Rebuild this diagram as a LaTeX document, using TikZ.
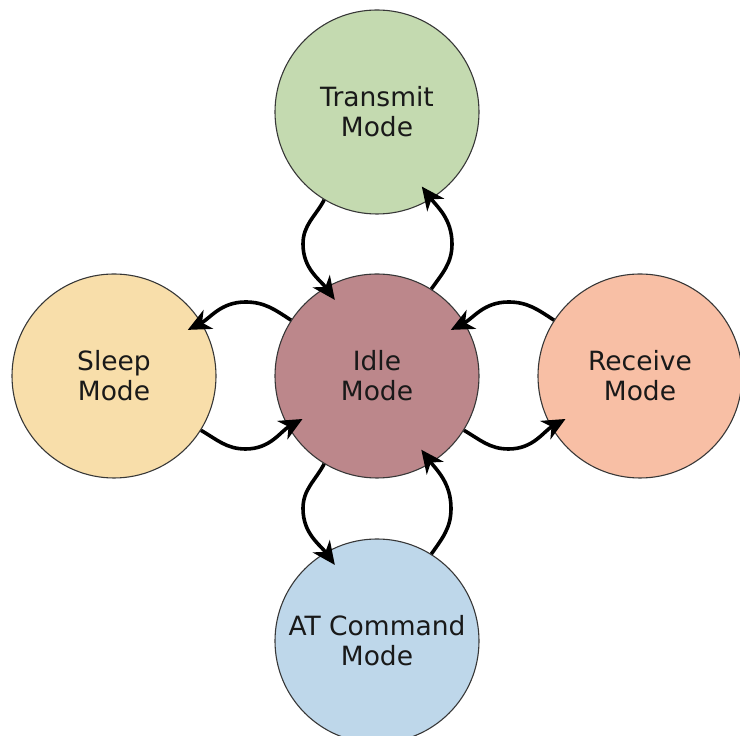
\documentclass[tikz,border=0pt]{standalone}
\usepackage{fontspec}
\setmainfont{DejaVu Sans}
\usetikzlibrary{arrows.meta,calc}
\definecolor{txc}{RGB}{196,218,176}
\definecolor{idlec}{RGB}{188,135,139}
\definecolor{sleepc}{RGB}{248,222,170}
\definecolor{rxc}{RGB}{248,191,165}
\definecolor{atc}{RGB}{190,215,234}
\definecolor{edgec}{RGB}{55,55,55}
\begin{document}
\begin{tikzpicture}[x=1pt,y=1pt,
  mode/.style={circle,draw=edgec,line width=1.1pt,minimum size=204pt,inner sep=0pt,align=center,
    font=\fontsize{26.5}{30}\selectfont,text=black!90},
  trans/.style={line width=3.6pt,-{Stealth[length=23pt,width=21pt,inset=7pt]}}]
\useasboundingbox (0,0) rectangle (740,736);
\clip (0,0) rectangle (740,736);
\node[mode,fill=idlec]  (idle)  at (377,360) {Idle\\Mode};
\node[mode,fill=txc]    (tx)    at (377,624) {Transmit\\Mode};
\node[mode,fill=sleepc] (sleep) at (114,360) {Sleep\\Mode};
\node[mode,fill=rxc]    (rx)    at (640,360) {Receive\\Mode};
\node[mode,fill=atc]    (at)    at (377,95)  {AT Command\\Mode};
% Transmit <-> Idle
\draw[trans] (tx.239) to[out=242,in=90] ($(tx.center)!0.5!(idle.center)+(-74,0)$)
  to[out=270,in=126] ($(idle.center)+(119:87)$);
\draw[trans] (idle.58) to[out=55,in=270] ($(tx.center)!0.5!(idle.center)+(75,0)$)
  to[out=90,in=307] ($(tx.center)+(301:87)$);
% Sleep <-> Idle
\draw[trans] (idle.147) to[out=147,in=0] ($(sleep.center)!0.5!(idle.center)+(0,74)$)
  to[out=180,in=27] ($(sleep.center)+(32:87)$);
\draw[trans] (sleep.328) to[out=330,in=180] ($(sleep.center)!0.5!(idle.center)+(0,-73)$)
  to[out=0,in=209] ($(idle.center)+(210:86)$);
% Receive <-> Idle
\draw[trans] (rx.147) to[out=147,in=0] ($(idle.center)!0.5!(rx.center)+(0,74)$)
  to[out=180,in=27] ($(idle.center)+(32:87)$);
\draw[trans] (idle.328) to[out=330,in=180] ($(idle.center)!0.5!(rx.center)+(0,-73)$)
  to[out=0,in=209] ($(rx.center)+(210:86)$);
% AT <-> Idle
\draw[trans] (idle.239) to[out=242,in=90] ($(idle.center)!0.5!(at.center)+(-74,0)$)
  to[out=270,in=126] ($(at.center)+(119:87)$);
\draw[trans] (at.58) to[out=55,in=270] ($(idle.center)!0.5!(at.center)+(74,0)$)
  to[out=90,in=307] ($(idle.center)+(301:86)$);
\end{tikzpicture}
\end{document}
